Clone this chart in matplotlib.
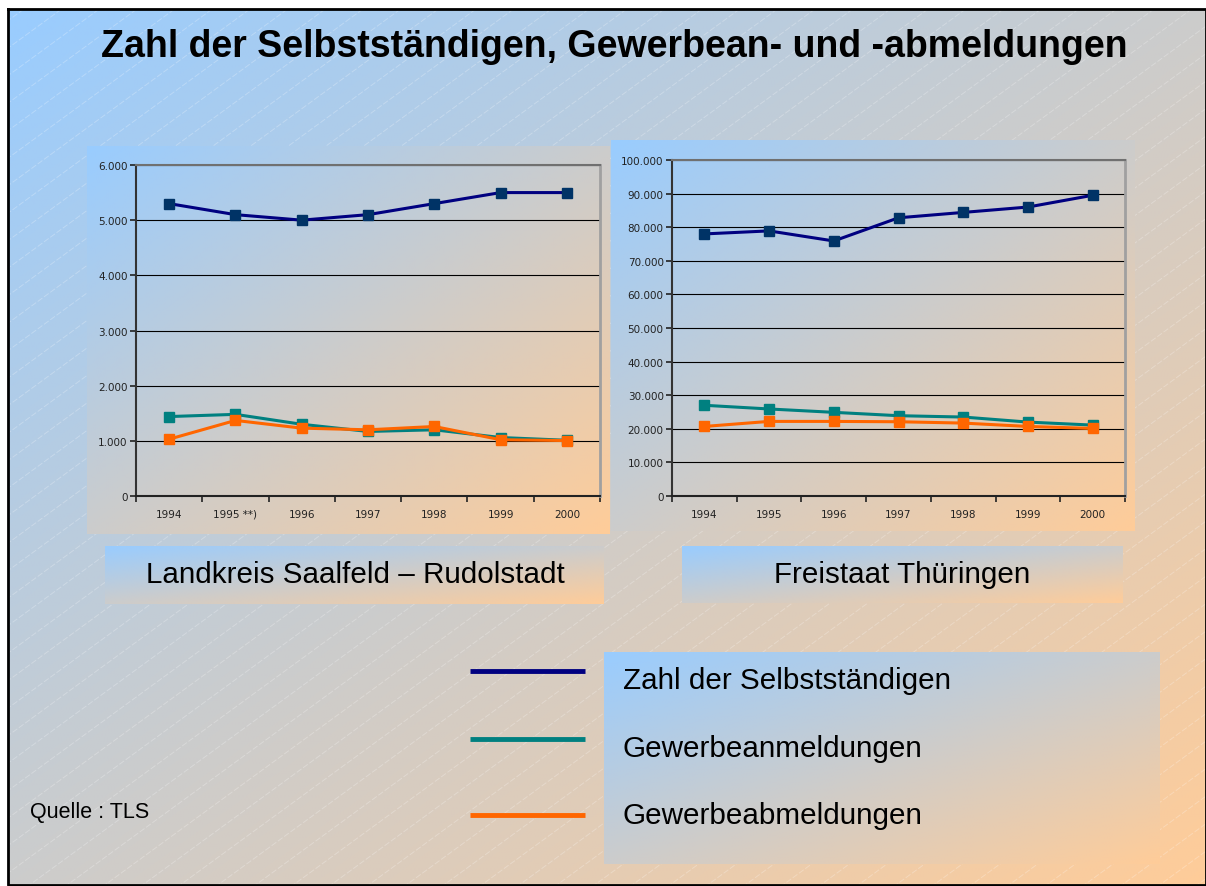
import numpy as np
import matplotlib
matplotlib.use("Agg")
import matplotlib.pyplot as plt
from matplotlib.ticker import FuncFormatter, MultipleLocator, FixedLocator

# ---------------- data ----------------
years_left = ["1994", "1995 **)", "1996", "1997", "1998", "1999", "2000"]
years_right = ["1994", "1995", "1996", "1997", "1998", "1999", "2000"]

slf_selbst = [5300, 5100, 5000, 5100, 5300, 5500, 5500]
slf_anmeld = [1440, 1480, 1300, 1170, 1200, 1060, 1010]
slf_abmeld = [1030, 1370, 1230, 1200, 1260, 1020, 1005]

th_selbst = [78000, 78900, 75900, 82800, 84400, 86000, 89500]
th_anmeld = [27000, 25900, 24900, 23900, 23500, 22000, 21100]
th_abmeld = [20700, 22200, 22200, 22100, 21700, 20700, 20100]

series_names = ["Zahl der Selbstständigen", "Gewerbeanmeldungen", "Gewerbeabmeldungen"]
line_colors = ["#000080", "#008080", "#FF6600"]
marker_colors = ["#003366", "#008080", "#FF6600"]

title = "Zahl der Selbstständigen, Gewerbean- und -abmeldungen"
label_left = "Landkreis Saalfeld – Rudolstadt"
label_right = "Freistaat Thüringen"
source = "Quelle : TLS"

# ---------------- layout helpers ----------------
W, H = 1206, 887
fig = plt.figure(figsize=(W / 100, H / 100), dpi=100)
fig.patch.set_facecolor("white")

BLUE = np.array([153, 204, 255]) / 255.0
PEACH = np.array([255, 204, 153]) / 255.0


def gradient(nx=200, ny=200):
    u = np.linspace(0, 1, nx)[None, :]
    v = np.linspace(0, 1, ny)[:, None]
    t = (u + v) / 2.0
    return BLUE[None, None, :] * (1 - t[..., None]) + PEACH[None, None, :] * t[..., None]


def px_rect(x0, y0, x1, y1):
    return [x0 / W, 1 - y1 / H, (x1 - x0) / W, (y1 - y0) / H]


bg = fig.add_axes([0, 0, 1, 1])
bg.set_axis_off()

# slide background
bg.imshow(gradient(400, 300), extent=(8, W, 886, 10), aspect="auto", zorder=0,
          interpolation="bilinear")
# hatch lines
slope = 0.73
for c in np.arange(0, H + slope * W + 30, 27.5):
    xs = np.array([0, W])
    ys = c - slope * xs
    bg.plot(xs, ys, color="white", lw=0.7, alpha=0.25, zorder=1,
            linestyle=(0, (6, 2)))
bg.plot([8, W, W, 8, 8], [10, 10, 886, 886, 10], color="black", lw=2, zorder=2)

# panels and boxes
for (x0, y0, x1, y1) in [(87, 147, 610, 535), (611, 141, 1135, 532),
                         (105, 547, 604, 605), (682, 547, 1123, 604),
                         (604, 653, 1160, 865)]:
    bg.imshow(gradient(), extent=(x0, x1, y1, y0), aspect="auto", zorder=3,
              interpolation="bilinear")

bg.set_xlim(0, W)
bg.set_ylim(H, 0)

font = "Liberation Sans"
bg.text(614, 47, title, fontsize=27, fontweight="bold", family=font,
        ha="center", va="center", zorder=5)
bg.text(355, 575, label_left, fontsize=21.3, family=font, ha="center", va="center", zorder=5)
bg.text(902, 575, label_right, fontsize=21.3, family=font, ha="center", va="center", zorder=5)
bg.text(30, 813, source, fontsize=15.5, family=font, ha="left", va="center", zorder=5)

# legend
leg_y = [672, 740, 816]
txt_y = [681, 749, 816]
for name, col, ly, ty in zip(series_names, line_colors, leg_y, txt_y):
    bg.plot([470, 585], [ly, ly], color=col, lw=3.5, solid_capstyle="butt", zorder=5)
    bg.text(623, ty, name, fontsize=21.3, family=font, ha="left", va="center", zorder=5)


# ---------------- charts ----------------
def thousands(v, pos):
    return f"{int(round(v)):,}".replace(",", ".")


def make_chart(rect, cats, data, ymax, ystep):
    ax = fig.add_axes(rect)
    ax.patch.set_alpha(0)
    x = np.arange(len(cats))
    for vals, lc, mc in zip(data, line_colors, marker_colors):
        ax.plot(x, vals, color=lc, lw=2.2, marker="s", markersize=6.5,
                markerfacecolor=mc, markeredgecolor=mc, zorder=3)
    ax.set_xlim(-0.5, len(cats) - 0.5)
    ax.set_ylim(0, ymax)
    ax.yaxis.set_major_locator(MultipleLocator(ystep))
    ax.yaxis.set_major_formatter(FuncFormatter(thousands))
    ax.set_xticks(x)
    ax.set_xticklabels(cats)
    ax.xaxis.set_minor_locator(FixedLocator(np.arange(-0.5, len(cats), 1.0)))
    ax.tick_params(axis="x", which="major", length=0, labelsize=7.5, pad=9,
                   labelcolor="#222222")
    ax.tick_params(axis="x", which="minor", length=4, width=1.2, color="#222222",
                   direction="out")
    ax.tick_params(axis="y", which="major", length=4, width=1.2, labelsize=7.5,
                   color="#222222", labelcolor="#222222", pad=2)
    ax.grid(axis="y", color="black", lw=0.8, zorder=1)
    ax.set_axisbelow(True)
    ax.spines["top"].set_color("#707070")
    ax.spines["top"].set_linewidth(1.5)
    ax.spines["right"].set_color("#a0a0a0")
    ax.spines["right"].set_linewidth(2)
    ax.spines["left"].set_color("#333333")
    ax.spines["left"].set_linewidth(1.5)
    ax.spines["bottom"].set_color("#222222")
    ax.spines["bottom"].set_linewidth(1.5)
    return ax


make_chart(px_rect(136, 166, 600, 497), years_left,
           [slf_selbst, slf_anmeld, slf_abmeld], 6000, 1000)
make_chart(px_rect(672, 161, 1125, 497), years_right,
           [th_selbst, th_anmeld, th_abmeld], 100000, 10000)

fig.savefig("out.png", dpi=100)
